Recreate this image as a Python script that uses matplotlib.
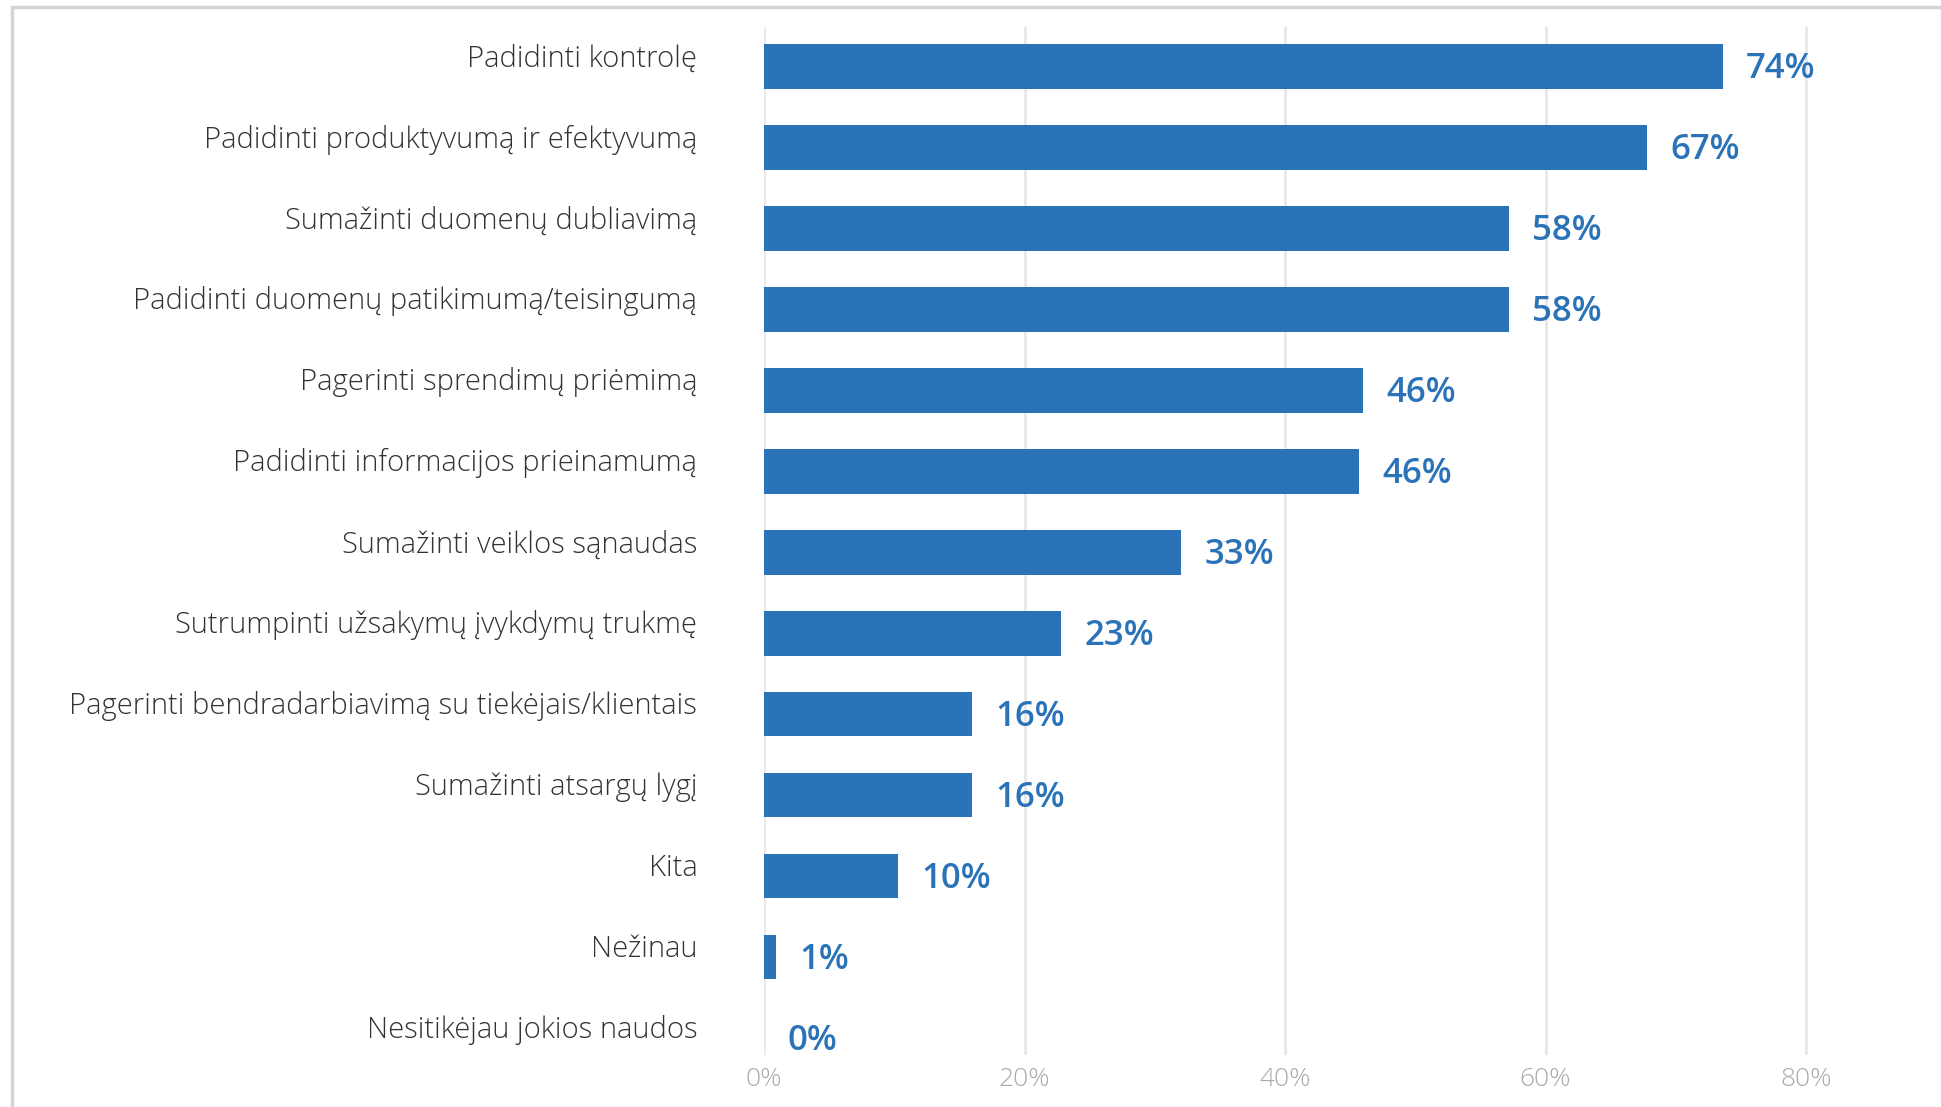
import matplotlib
matplotlib.use('Agg')
import matplotlib.pyplot as plt
from matplotlib.patches import Rectangle
from matplotlib.transforms import offset_copy

categories = ['Padidinti kontrolę',
              'Padidinti produktyvumą ir efektyvumą',
              'Sumažinti duomenų dubliavimą',
              'Padidinti duomenų patikimumą/teisingumą',
              'Pagerinti sprendimų priėmimą',
              'Padidinti informacijos prieinamumą',
              'Sumažinti veiklos sąnaudas',
              'Sutrumpinti užsakymų įvykdymų trukmę',
              'Pagerinti bendradarbiavimą su tiekėjais/klientais',
              'Sumažinti atsargų lygį',
              'Kita',
              'Nežinau',
              'Nesitikėjau jokios naudos']
values = [73.6, 67.8, 57.2, 57.2, 46.0, 45.7, 32.0, 22.8, 16.0, 16.0, 10.3, 0.9, 0.0]
value_labels = ['74%', '67%', '58%', '58%', '46%', '46%', '33%', '23%', '16%', '16%', '10%', '1%', '0%']
ticks = [0, 20, 40, 60, 80]

blue = '#2a73b8'
fam = ['Open Sans', 'DejaVu Sans']

W, H = 1941, 1107
fig = plt.figure(figsize=(W / 100, H / 100), dpi=100)

# light grey frame, cut off at right and bottom
fig.patches.append(Rectangle((12 / W, -0.1), 1.2, 1 - 7 / H + 0.1, transform=fig.transFigure,
                             fill=False, edgecolor='#d4d4d4', linewidth=2.5))

ax = fig.add_axes([764 / W, 1 - 1055 / H, (1900 - 764) / W, (1055 - 27) / H])
y = list(range(len(categories)))
ax.barh(y, values, height=0.55, color=blue)

# value labels, baseline shifted so the digits sit in the middle of the bar
lab_tr = offset_copy(ax.transData, fig=fig, x=0, y=-8.5, units='points')
for yi, v, lab in zip(y, values, value_labels):
    ax.text(v + 1.8, yi, lab, va='baseline', ha='left', color=blue, fontsize=25,
            fontweight='semibold', family=fam, transform=lab_tr)

ax.set_xlim(0, (1900 - 764) / 13.025)
ax.set_ylim(len(categories) - 1 + 0.21, -0.49)
ax.set_xticks(ticks)
ax.set_xticklabels([f'{t}%' for t in ticks], color='#aaaaaa', fontsize=19,
                   family=fam, fontweight='light')
ax.set_yticks(y)
ax.set_yticklabels(categories, fontsize=21, color='#333333', family=fam, fontweight='light')
ax.tick_params(axis='both', length=0)
ax.tick_params(axis='y', pad=48)
ax.tick_params(axis='x', pad=9)
for lab in ax.get_yticklabels():
    lab.set_verticalalignment('baseline')
ax.grid(axis='x', color='#e8e8e8', linewidth=2)
ax.set_axisbelow(True)
for s in ax.spines.values():
    s.set_visible(False)

fig.savefig('out.png', dpi=100)
